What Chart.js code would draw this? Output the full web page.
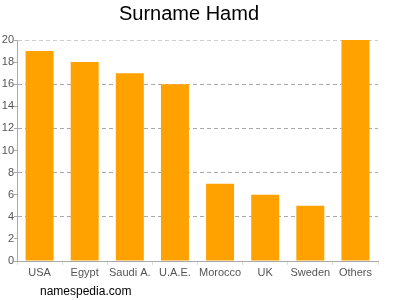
<!DOCTYPE html>
<html>
<head>
<meta charset="utf-8">
<script src="https://cdn.jsdelivr.net/npm/chart.js@4"></script>
<style>
  body { margin: 0; background: #fff; }
  #wrap { position: relative; width: 400px; height: 300px; }
  #site {
    position: absolute; left: 40px; top: 284px;
    font: 12px "Liberation Sans", Arial, sans-serif; color: #000;
  }
</style>
</head>
<body>
<div id="wrap">
  <canvas id="chart" width="400" height="300"></canvas>
  <div id="site">namespedia.com</div>
</div>
<script>
const countries = ['USA', 'Egypt', 'Saudi A.', 'U.A.E.', 'Morocco', 'UK', 'Sweden', 'Others'];
const counts = [19, 18, 17, 16, 7, 6, 5, 20];

const font = { family: '"Liberation Sans", Arial, sans-serif', size: 11 };

new Chart(document.getElementById('chart'), {
  type: 'bar',
  data: {
    labels: countries,
    datasets: [{
      data: counts,
      backgroundColor: '#ffa200',
      barPercentage: 0.62,
      categoryPercentage: 1
    }]
  },
  options: {
    responsive: false,
    animation: false,
    layout: { padding: { left: 0, right: 22, top: 0, bottom: 0 } },
    plugins: {
      legend: { display: false },
      tooltip: { enabled: false },
      title: {
        display: true,
        text: 'Surname Hamd',
        color: '#000',
        font: { family: '"Liberation Sans", Arial, sans-serif', size: 20, weight: 'normal' },
        padding: { top: 2, bottom: 14 }
      }
    },
    scales: {
      x: {
        afterFit: s => { s.height = 39; },
        grid: { display: true, drawOnChartArea: false, tickLength: 4, tickColor: '#ddd' },
        border: { color: '#aaa' },
        ticks: { color: '#555', font: font, padding: 1, maxRotation: 0, autoSkip: false }
      },
      y: {
        min: 0,
        max: 20,
        afterFit: s => { s.width = 17; },
        grid: {
          color: ctx => ctx.tick.value === 20 ? '#ccc' : (ctx.tick.value % 4 === 0 && ctx.tick.value > 0 ? '#aaa' : 'rgba(0,0,0,0)'),
          tickColor: '#aaa',
          tickLength: 3
        },
        border: { color: '#aaa', dash: [4, 3] },
        ticks: { stepSize: 2, color: '#555', font: font, padding: 0 }
      }
    }
  }
});
</script>
</body>
</html>
